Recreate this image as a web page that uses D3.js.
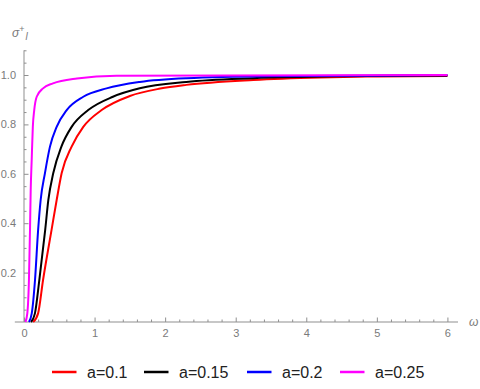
<!DOCTYPE html>
<html>
<head>
<meta charset="utf-8">
<script src="https://cdnjs.cloudflare.com/ajax/libs/d3/7.8.5/d3.min.js"></script>
<style>
    body { margin: 0; background: #fff; }
    svg { display: block; }
</style>
</head>
<body>
<script>
/* ========================== Data ========================= */
// omega values and sigma values, one pair of arrays per curve
var redOmega = [0.13, 0.2, 0.27, 0.39, 0.463, 0.534, 0.675, 0.84, 1.1, 1.5, 1.93, 2.3, 3.25, 4.2, 5, 6];
var redSigma = [0, 0.035, 0.17, 0.372, 0.494, 0.603, 0.71, 0.79, 0.858, 0.915, 0.945, 0.96, 0.98, 0.99, 0.994, 0.996];

var blackOmega = [0.1, 0.155, 0.217, 0.3, 0.345, 0.415, 0.53, 0.675, 0.91, 1.26, 1.64, 2.3, 3.25, 4.5, 6];
var blackSigma = [0, 0.035, 0.17, 0.372, 0.494, 0.603, 0.71, 0.79, 0.858, 0.912, 0.946, 0.972, 0.987, 0.995, 0.998];

var blueOmega = [0.07, 0.11, 0.156, 0.2, 0.236, 0.297, 0.368, 0.463, 0.605, 0.84, 1.17, 1.64, 2.3, 3.5, 6];
var blueSigma = [0, 0.035, 0.17, 0.372, 0.494, 0.603, 0.71, 0.79, 0.858, 0.912, 0.946, 0.972, 0.987, 0.995, 0.999];

var magentaOmega = [0.02, 0.047, 0.07, 0.085, 0.095, 0.109, 0.125, 0.145, 0.18, 0.27, 0.41, 0.75, 1.31, 6];
var magentaSigma = [0, 0.035, 0.17, 0.372, 0.534, 0.656, 0.79, 0.858, 0.912, 0.946, 0.966, 0.986, 0.997, 1.0];

var seriesNames = ["a=0.1", "a=0.15", "a=0.2", "a=0.25"];
var seriesColors = ["#ff0000", "#000000", "#0000ff", "#ff00ff"];

var xTicks = [0, 1, 2, 3, 4, 5, 6];
var yTicks = [0.2, 0.4, 0.6, 0.8, 1.0];

/* ========= Constants ========= */
var w = 480;
var h = 389;
var axisColor = "#8f8f8f";
var tickTextColor = "#7a7a7a";
var tickFont = "'Liberation Sans', Arial, sans-serif";

var svg = d3.select("body")
    .append("svg")
    .attr("width", w)
    .attr("height", h);

// scales
var xScale = d3.scaleLinear()
    .domain([0, 6.15])
    .range([24, 458]);
var yScale = d3.scaleLinear()
    .domain([0, 1.1])
    .range([322, 50.3]);

/* ==================== Axes ======================== */
// axis lines (x axis starts a bit left of 0, like the plot range padding)
svg.append("line")
    .attr("x1", xScale(-0.13)).attr("x2", xScale(6.15))
    .attr("y1", yScale(0)).attr("y2", yScale(0))
    .attr("stroke", axisColor).attr("stroke-width", 1);
svg.append("line")
    .attr("x1", xScale(0)).attr("x2", xScale(0))
    .attr("y1", yScale(0)).attr("y2", yScale(1.1))
    .attr("stroke", axisColor).attr("stroke-width", 1);

// minor ticks
var xMinor = d3.range(0, 6.15, 0.2).filter(function (v) { return Math.abs(v - Math.round(v)) > 0.01; });
var yMinor = d3.range(0.05, 1.11, 0.05).filter(function (v) { return Math.abs(v * 5 - Math.round(v * 5)) > 0.01; });

svg.append("g")
    .attr("transform", "translate(0," + yScale(0) + ")")
    .call(d3.axisBottom(xScale).tickValues(xMinor).tickSize(-2.5).tickFormat(""))
    .call(function (g) { g.select(".domain").remove(); })
    .selectAll("line").attr("stroke", axisColor);
svg.append("g")
    .attr("transform", "translate(" + xScale(0) + ",0)")
    .call(d3.axisLeft(yScale).tickValues(yMinor).tickSize(-2.5).tickFormat(""))
    .call(function (g) { g.select(".domain").remove(); })
    .selectAll("line").attr("stroke", axisColor);

// major ticks + labels
var xAxisG = svg.append("g")
    .attr("transform", "translate(0," + yScale(0) + ")")
    .call(d3.axisBottom(xScale).tickValues(xTicks).tickSize(-4.5).tickPadding(7).tickFormat(d3.format("d")));
xAxisG.select(".domain").remove();
xAxisG.selectAll("line").attr("stroke", axisColor);
xAxisG.selectAll("text")
    .attr("fill", tickTextColor)
    .attr("font-family", tickFont)
    .attr("font-size", "11px");

var yAxisG = svg.append("g")
    .attr("transform", "translate(" + xScale(0) + ",0)")
    .call(d3.axisLeft(yScale).tickValues(yTicks).tickSize(-4.5).tickPadding(8).tickFormat(d3.format(".1f")));
yAxisG.select(".domain").remove();
yAxisG.selectAll("line").attr("stroke", axisColor);
yAxisG.selectAll("text")
    .attr("fill", tickTextColor)
    .attr("font-family", tickFont)
    .attr("font-size", "11px");

// axis titles
var yTitle = svg.append("text")
    .attr("x", 12)
    .attr("y", 37)
    .attr("fill", tickTextColor)
    .attr("font-family", tickFont)
    .attr("font-size", "12px")
    .attr("font-style", "italic");
yTitle.append("tspan").text("σ");
yTitle.append("tspan").attr("dy", -5).attr("font-size", "9px").attr("font-style", "normal").text("+");
yTitle.append("tspan").attr("dy", 8).attr("dx", 1).attr("font-size", "10px").text("l");

svg.append("text")
    .attr("x", 469)
    .attr("y", 326)
    .attr("fill", tickTextColor)
    .attr("font-family", tickFont)
    .attr("font-size", "12px")
    .attr("font-style", "italic")
    .text("ω");

/* =========== Curves ============= */
var allSeries = [
    d3.zip(redOmega, redSigma),
    d3.zip(blackOmega, blackSigma),
    d3.zip(blueOmega, blueSigma),
    d3.zip(magentaOmega, magentaSigma)
];

var line = d3.line()
    .curve(d3.curveMonotoneX)
    .x(function (d) { return xScale(d[0]); })
    .y(function (d) { return yScale(d[1]); });

for (var i = 0; i < allSeries.length; i++) {
    svg.append("path")
        .datum(allSeries[i])
        .attr("fill", "none")
        .attr("stroke", seriesColors[i])
        .attr("stroke-width", 2)
        .attr("stroke-linejoin", "round")
        .attr("d", line);
}

/* =========== Legend ============= */
var legendX = [52, 144, 247, 340];
var legendY = 372;
for (var j = 0; j < seriesNames.length; j++) {
    svg.append("line")
        .attr("x1", legendX[j]).attr("x2", legendX[j] + 24.5)
        .attr("y1", legendY).attr("y2", legendY)
        .attr("stroke", seriesColors[j])
        .attr("stroke-width", 2.5);
    svg.append("text")
        .attr("x", legendX[j] + 35)
        .attr("y", legendY + 6)
        .attr("fill", "#222")
        .attr("font-family", tickFont)
        .attr("font-size", "16px")
        .text(seriesNames[j]);
}
</script>
</body>
</html>
